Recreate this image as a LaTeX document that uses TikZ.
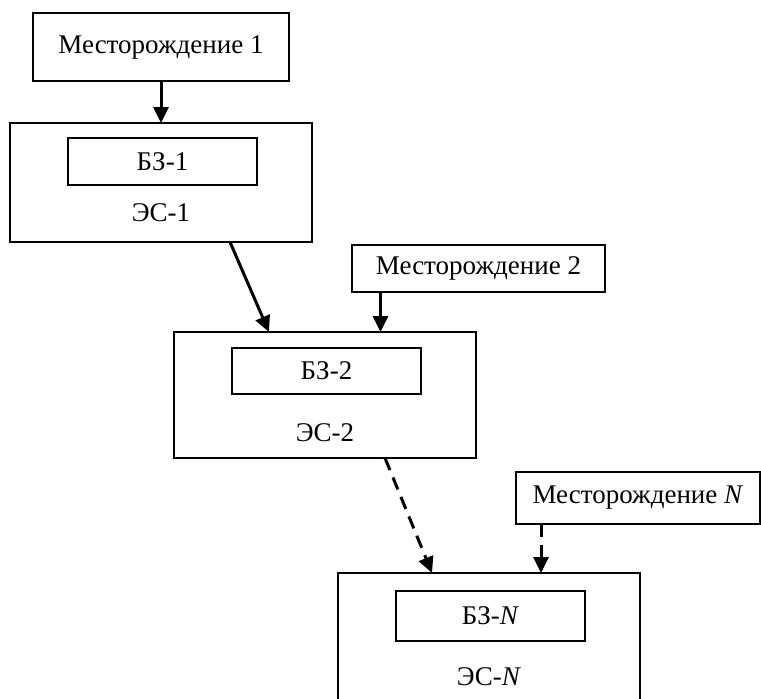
\documentclass[tikz,border=0pt]{standalone}
\usepackage{fontspec}
\setmainfont{Liberation Serif}
\usetikzlibrary{arrows.meta,positioning,calc}

\begin{document}
\begin{tikzpicture}[x=1pt,y=-1pt,font=\fontsize{27}{31}\selectfont,
  box/.style={draw,line width=1.6pt,inner sep=0pt,outer sep=0pt},
  arr/.style={line width=3pt,-{Triangle[length=16pt,width=15pt]}},
  dasharr/.style={arr,dash pattern=on 13pt off 8pt}]
  \useasboundingbox (0,0) rectangle (761,699);
  % месторождения
  \node[box,minimum width=256,minimum height=68] (m1) at (161,47) {Месторождение 1};
  \node[box,minimum width=253,minimum height=47] (m2) at (478.5,268.5) {Месторождение 2};
  \node[box,minimum width=244,minimum height=52] (mN) at (638,498) {Месторождение \textit{N}};
  % ЭС : имя / x / y_центр / высота / y_БЗ / высота_БЗ / y_ЭС / индекс
  \foreach \n/\x/\y/\h/\yb/\hb/\ye/\i in {%
    1/161/182.5/119/161.5/47/213/1,
    2/325/395/126/371/46/433/2,
    N/489/637.5/129/616/50/677/\textit{N}} {
    \node[box,minimum width=302,minimum height=\h] (es\n) at (\x,\y) {};
    \node[box,minimum width=189,minimum height=\hb] (bz\n) at (\x+1.5,\yb) {БЗ-\i};
    \node (lab\n) at (\x,\ye) {ЭС-\i};
  }
  % связи
  \draw[arr] (m1.south) -- (es1.north);
  \draw[arr] ([xshift=69]es1.south) -- ([xshift=-56]es2.north);
  \draw[arr] ([xshift=-98]m2.south) -- ([xshift=-98]m2.south |- es2.north);
  \draw[dasharr] ([xshift=60]es2.south) -- ([xshift=-57]esN.north);
  \draw[dasharr] ([xshift=-97]mN.south) -- ([xshift=-97]mN.south |- esN.north);
\end{tikzpicture}
\end{document}
